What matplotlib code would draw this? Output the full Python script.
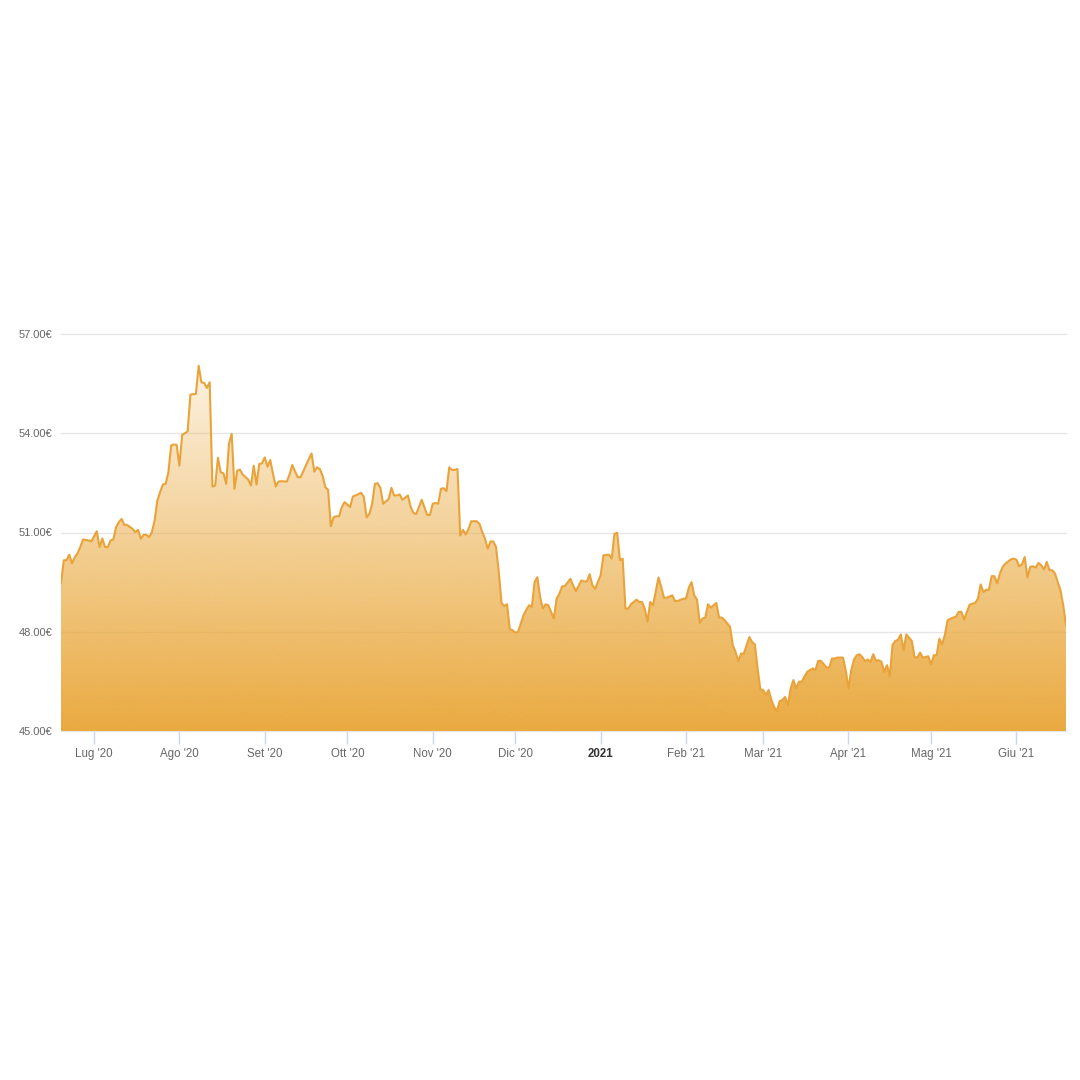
import numpy as np
import pandas as pd
import matplotlib
matplotlib.use("Agg")
import matplotlib.pyplot as plt
import matplotlib.dates as mdates
from matplotlib.colors import to_rgb

# ── Dati: prezzo giornaliero ─────────────────────────────────────────────────
START = pd.Timestamp("2020-06-19")
days = [
    0, 1, 2, 3, 4, 5, 6, 7, 8, 10, 11, 13, 14, 15, 16, 17, 18, 19, 20, 21,
    22, 23, 24, 26, 27, 28, 29, 30, 31, 32, 33, 34, 35, 36, 37, 38, 39, 40, 41, 42,
    43, 44, 45, 46, 47, 48, 49, 50, 51, 52, 53, 54, 55, 56, 57, 58, 59, 60, 61, 62,
    63, 64, 65, 66, 68, 69, 70, 71, 72, 73, 74, 75, 76, 77, 78, 79, 80, 82, 83, 84,
    85, 86, 87, 88, 89, 91, 92, 93, 94, 95, 96, 97, 98, 99, 100, 101, 102, 103, 105, 106,
    107, 109, 110, 111, 112, 113, 114, 115, 116, 117, 119, 120, 121, 122, 123, 124, 126, 127, 128, 129,
    130, 131, 133, 134, 135, 136, 137, 138, 139, 140, 141, 142, 143, 144, 145, 146, 147, 148, 149, 151,
    152, 153, 154, 155, 156, 157, 158, 159, 160, 161, 162, 163, 164, 165, 166, 167, 168, 169, 170, 171,
    172, 173, 174, 175, 176, 177, 179, 180, 181, 182, 183, 185, 186, 187, 189, 190, 191, 192, 193, 194,
    196, 197, 199, 200, 201, 202, 203, 204, 205, 206, 207, 209, 210, 211, 212, 213, 214, 215, 217, 218,
    219, 220, 222, 223, 224, 226, 227, 228, 229, 230, 231, 232, 233, 234, 235, 236, 238, 239, 240, 241,
    243, 244, 245, 246, 247, 248, 250, 251, 252, 253, 254, 255, 256, 257, 258, 259, 260, 261, 262, 263,
    264, 265, 266, 267, 268, 269, 270, 271, 273, 274, 275, 276, 277, 278, 279, 280, 281, 282, 284, 285,
    286, 287, 288, 289, 290, 291, 292, 293, 294, 295, 296, 297, 298, 299, 300, 301, 302, 303, 304, 305,
    306, 307, 309, 310, 311, 312, 313, 315, 316, 317, 318, 319, 320, 321, 322, 324, 325, 326, 327, 328,
    329, 330, 332, 333, 334, 335, 336, 337, 338, 339, 340, 341, 342, 343, 345, 346, 347, 348, 349, 350,
    351, 352, 353, 354, 355, 356, 357, 358, 359, 360, 361, 362, 363, 364, 365,
]
prices = [
    49.46, 50.16, 50.16, 50.33, 50.07, 50.25, 50.37, 50.56, 50.79, 50.76, 50.73, 51.04, 50.56, 50.82, 50.56, 50.56, 50.76, 50.79, 51.16, 51.31,
    51.41, 51.23, 51.23, 51.11, 51.01, 51.08, 50.81, 50.93, 50.93, 50.86, 51.01, 51.36, 51.97, 52.22, 52.45, 52.47, 52.82, 53.63, 53.66, 53.65,
    53.02, 53.95, 54.00, 54.06, 55.17, 55.18, 55.19, 56.04, 55.54, 55.52, 55.37, 55.54, 52.39, 52.42, 53.26, 52.82, 52.79, 52.47, 53.68, 53.98,
    52.32, 52.87, 52.90, 52.75, 52.60, 52.42, 53.02, 52.45, 53.07, 53.09, 53.27, 52.99, 53.19, 52.77, 52.39, 52.54, 52.55, 52.54, 52.75, 53.04,
    52.85, 52.67, 52.67, 52.85, 53.04, 53.39, 52.84, 52.97, 52.92, 52.72, 52.37, 52.29, 51.19, 51.46, 51.49, 51.49, 51.77, 51.92, 51.77, 52.09,
    52.12, 52.20, 52.07, 51.46, 51.56, 51.87, 52.47, 52.49, 52.35, 51.87, 52.01, 52.35, 52.12, 52.12, 52.15, 51.99, 52.12, 51.77, 51.59, 51.56,
    51.77, 51.99, 51.53, 51.53, 51.87, 51.89, 51.87, 52.32, 52.34, 52.25, 52.97, 52.89, 52.89, 52.92, 50.91, 51.08, 50.94, 51.11, 51.34, 51.34,
    51.26, 51.01, 50.81, 50.51, 50.73, 50.73, 50.56, 49.81, 48.87, 48.78, 48.83, 48.07, 48.05, 47.97, 48.00, 48.25, 48.50, 48.67, 48.80, 48.75,
    49.50, 49.65, 49.05, 48.70, 48.83, 48.80, 48.40, 49.00, 49.15, 49.37, 49.38, 49.60, 49.40, 49.23, 49.55, 49.52, 49.52, 49.74, 49.40, 49.30,
    49.71, 50.31, 50.33, 50.21, 50.96, 50.99, 50.16, 50.21, 48.70, 48.70, 48.83, 48.97, 48.90, 48.90, 48.70, 48.30, 48.90, 48.80, 49.64, 49.35,
    49.03, 49.03, 49.10, 48.93, 48.93, 49.00, 49.00, 49.33, 49.50, 49.10, 48.97, 48.27, 48.40, 48.43, 48.83, 48.73, 48.87, 48.43, 48.43, 48.35,
    48.15, 47.59, 47.39, 47.11, 47.34, 47.34, 47.84, 47.69, 47.62, 46.89, 46.26, 46.24, 46.09, 46.24, 45.94, 45.73, 45.60, 45.90, 45.94, 46.03,
    45.78, 46.29, 46.54, 46.29, 46.49, 46.49, 46.64, 46.79, 46.89, 46.84, 47.12, 47.12, 47.02, 46.92, 46.92, 47.19, 47.19, 47.22, 47.22, 46.84,
    46.29, 46.84, 47.16, 47.29, 47.32, 47.24, 47.11, 47.16, 47.09, 47.32, 47.12, 47.14, 47.09, 46.79, 46.99, 46.66, 47.60, 47.72, 47.76, 47.92,
    47.44, 47.92, 47.72, 47.24, 47.22, 47.37, 47.22, 47.26, 47.01, 47.29, 47.29, 47.79, 47.62, 47.90, 48.35, 48.43, 48.45, 48.60, 48.60, 48.37,
    48.60, 48.82, 48.87, 49.00, 49.43, 49.20, 49.27, 49.27, 49.68, 49.68, 49.46, 49.76, 49.96, 50.06, 50.19, 50.21, 50.18, 49.98, 50.04, 50.26,
    49.64, 49.96, 49.98, 49.94, 50.08, 50.01, 49.88, 50.11, 49.86, 49.86, 49.76, 49.50, 49.25, 48.80, 48.20,
]

month_ticks = ["2020-07-01", "2020-08-01", "2020-09-01", "2020-10-01", "2020-11-01", "2020-12-01",
               "2021-01-01", "2021-02-01", "2021-03-01", "2021-04-01", "2021-05-01", "2021-06-01"]
month_labels = ["Lug '20", "Ago '20", "Set '20", "Ott '20", "Nov '20", "Dic '20",
                "2021", "Feb '21", "Mar '21", "Apr '21", "Mag '21", "Giu '21"]
y_ticks = [45, 48, 51, 54, 57]

dates = START + pd.to_timedelta(days, unit="D")
y = np.array(prices)
ORANGE = "#e9a33a"
FILL = "#eaaa40"

plt.rcParams["font.family"] = ["Liberation Sans", "DejaVu Sans"]

fig = plt.figure(figsize=(10.8, 10.8), dpi=100)
W, H = 1080, 1080
ax = fig.add_axes([61 / W, 1 - 731 / H, 1005 / W, 397 / H])
ax.set_xlim(dates[0], dates[-1])
ax.set_ylim(45, 57)

# ── Area con gradiente ───────────────────────────────────────────────────────
poly = ax.fill_between(dates, y, 45, facecolor="none", edgecolor="none")
x0, x1 = mdates.date2num(dates[0]), mdates.date2num(dates[-1])
rgb = to_rgb(FILL)
grad = np.zeros((256, 1, 4))
grad[:, 0, :3] = rgb
grad[:, 0, 3] = np.linspace(1.0, 0.15, 256)   # basso pieno -> alto chiaro
img = ax.imshow(grad, extent=[x0, x1, 45, y.max()], origin="lower",
                aspect="auto", zorder=2, interpolation="bicubic")
img.set_clip_path(poly.get_paths()[0], transform=ax.transData)
ax.plot(dates, y, color=ORANGE, lw=1.5, zorder=3, solid_joinstyle="round")

# ── Assi ─────────────────────────────────────────────────────────────────────
for sp in ax.spines.values():
    sp.set_visible(False)
ax.set_yticks(y_ticks)
ax.set_yticklabels([f"{v:.2f}€" for v in y_ticks], fontsize=8, color="#666666")
ax.tick_params(axis="y", length=0, pad=6)
ax.grid(axis="y", color="#e6e6e6", lw=1, zorder=0)
ax.set_axisbelow(True)

ax.set_xticks(pd.to_datetime(month_ticks))
ax.set_xticklabels(month_labels, fontsize=8.3, color="#666666")
ax.tick_params(axis="x", length=9, width=1, color="#ccd6eb", pad=3)
for lab in ax.get_xticklabels():
    if lab.get_text() == "2021":
        lab.set_fontweight("bold")
        lab.set_color("#333333")
for ln in ax.get_ygridlines():
    ln.set_clip_on(False)

fig.savefig("out.png", dpi=100, facecolor="white")
